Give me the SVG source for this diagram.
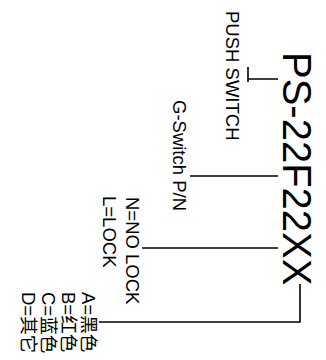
<svg xmlns="http://www.w3.org/2000/svg" width="326" height="360" viewBox="0 0 326 360">
<style>
text{font-family:"Liberation Sans","Noto Sans CJK SC",Arial,sans-serif;fill:#000}
.lbl{font-size:18.5px}
.main{font-size:40px}
.conn{fill:none;stroke:#000;stroke-width:1.6}
</style>
<rect width="326" height="360" fill="#fff"/>
<g id="part-number"><text class="main" transform="translate(283,52) rotate(90)">PS-22F22XX</text></g>
<g id="push-switch"><text class="lbl" transform="translate(226,11) rotate(90)">PUSH SWITCH</text></g>
<g id="g-switch"><text class="lbl" transform="translate(173,100) rotate(90)">G-Switch P/N</text></g>
<g id="lock"><text class="lbl" transform="translate(126,197) rotate(90)">N=NO LOCK</text><text class="lbl" transform="translate(103,196) rotate(90)">L=LOCK</text></g>
<g id="color"><text class="lbl" transform="translate(82,292) rotate(90)">A=黑色</text><text class="lbl" transform="translate(62,292) rotate(90)">B=红色</text><text class="lbl" transform="translate(42,292) rotate(90)">C=蓝色</text><text class="lbl" transform="translate(22,292) rotate(90)">D=其它</text></g>
<g id="connectors">
<path class="conn" d="M248,67V82M248,79H278"/>
<path class="conn" d="M190,176H278"/>
<path class="conn" d="M142,248H278"/>
<path class="conn" d="M300,284V322H99"/>
</g>
</svg>
